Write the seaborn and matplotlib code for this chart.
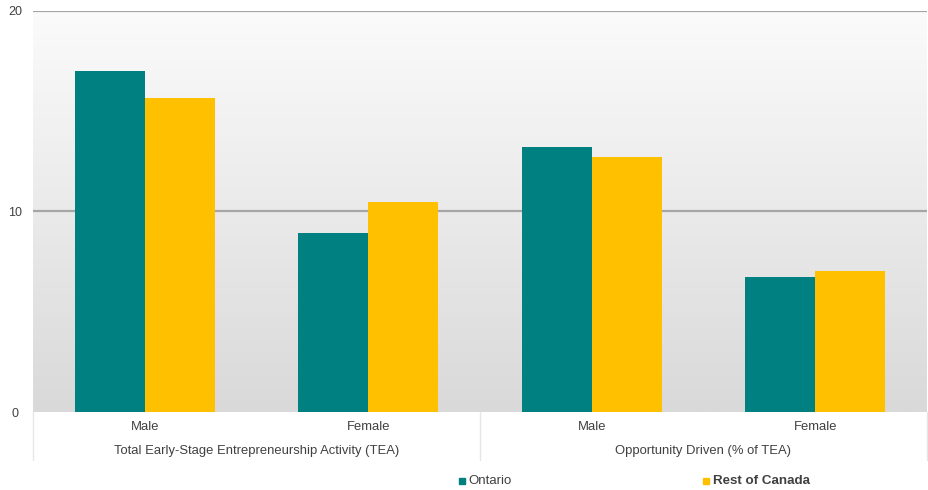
import numpy as np
import pandas as pd
import matplotlib
matplotlib.use("Agg")
import matplotlib.pyplot as plt
import matplotlib.transforms as mtransforms
import seaborn as sns

# Chart data
groups = ["Total Early-Stage Entrepreneurship Activity (TEA)", "Opportunity Driven (% of TEA)"]
genders = ["Male", "Female"]
regions = ["Ontario", "Rest of Canada"]
ontario = [17.0, 8.95, 13.2, 6.75]
rest_of_canada = [15.65, 10.45, 12.7, 7.05]
colors = ["#008080", "#FFC000"]

rows = []
slots = []
for gi, g in enumerate(groups):
    for si, s in enumerate(genders):
        slot = f"{g}|{s}"
        slots.append(slot)
        k = gi * 2 + si
        rows.append({"slot": slot, "region": regions[0], "value": ontario[k]})
        rows.append({"slot": slot, "region": regions[1], "value": rest_of_canada[k]})
df = pd.DataFrame(rows)

sns.set_style("white")
plt.rcParams["font.family"] = ["Liberation Sans", "DejaVu Sans"]

fig = plt.figure(figsize=(9.29, 4.90), dpi=100)
W, H = 929, 490
ax = fig.add_axes([33 / W, 1 - 412 / H, (927 - 33) / W, (412 - 11) / H])

# vertical gradient background inside the plotting area
grad = np.linspace(0, 1, 256).reshape(-1, 1)
cmap = matplotlib.colors.LinearSegmentedColormap.from_list("bg", ["#d9d9d9", "#fbfbfb"])
ax.imshow(grad, aspect="auto", cmap=cmap, origin="lower",
          extent=[-0.5, 3.5, 0, 20], zorder=0)

sns.barplot(data=df, x="slot", y="value", hue="region", order=slots,
            hue_order=regions, palette=colors, width=0.625, saturation=1,
            linewidth=0, edgecolor="none", ax=ax, legend=False, zorder=2)

ax.set_xlim(-0.5, 3.5)
ax.set_ylim(0, 20)
for y in (10, 20):
    ax.axhline(y, color="#a6a6a6", lw=1.6, zorder=1)

for sp in ax.spines.values():
    sp.set_visible(False)

ax.set_xlabel("")
ax.set_ylabel("")
ax.set_xticks([])
ax.set_yticks([0, 10, 20])
ax.tick_params(axis="y", length=0, pad=13, labelsize=9, labelcolor="#404040")
for lbl in ax.get_yticklabels():
    lbl.set_horizontalalignment("center")

# two-level category labels
trans = mtransforms.blended_transform_factory(ax.transData, ax.transAxes)
for i, slot in enumerate(slots):
    ax.text(i, -15 / 401, slot.split("|")[1], transform=trans, ha="center",
            va="center", fontsize=9.4, color="#404040")
for gi, g in enumerate(groups):
    ax.text(gi * 2 + 0.5, -39 / 401, g, transform=trans, ha="center",
            va="center", fontsize=9.4, color="#404040")
for xb in (-0.5, 1.5, 3.5):
    ax.plot([xb, xb], [0, -48 / 401], transform=trans, color="#e6e6e6",
            lw=1, clip_on=False)

# legend
fig.patches.append(plt.Rectangle((459 / W, 1 - 484 / H), 6 / W, 6 / H,
                                 transform=fig.transFigure, color=colors[0]))
fig.text(468 / W, 1 - 481 / H, "Ontario", fontsize=9.5, color="#404040", va="center")
fig.patches.append(plt.Rectangle((703 / W, 1 - 484 / H), 6 / W, 6 / H,
                                 transform=fig.transFigure, color=colors[1]))
fig.text(713 / W, 1 - 481 / H, "Rest of Canada", fontsize=9.6, fontweight="bold",
         color="#404040", va="center")

fig.savefig("out.png", dpi=100)
